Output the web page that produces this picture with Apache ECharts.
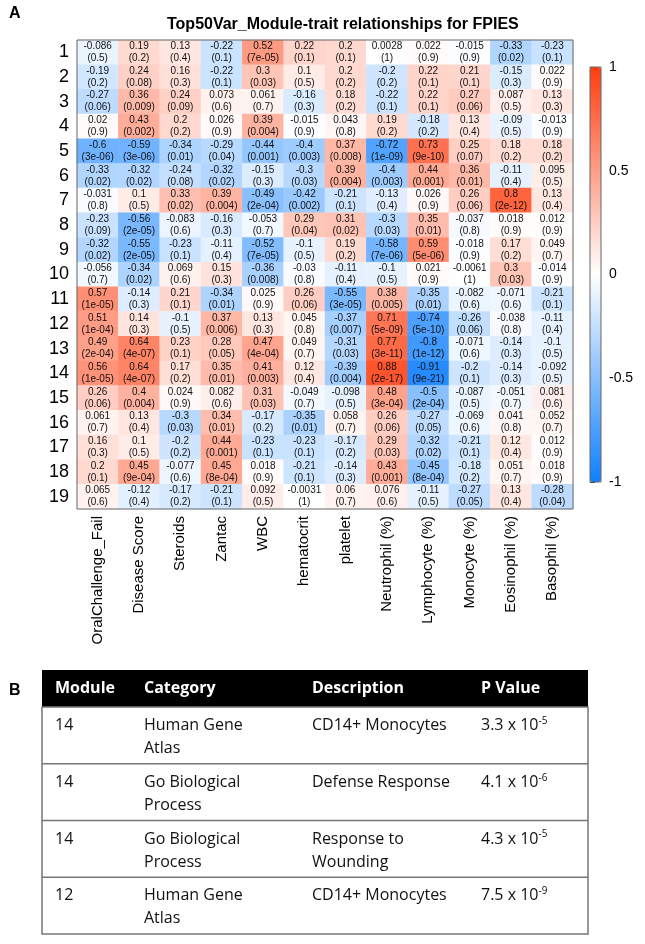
<!DOCTYPE html>
<html>
<head>
<meta charset="utf-8">
<script src="https://cdn.jsdelivr.net/npm/echarts@6/dist/echarts.min.js"></script>
<style>
  html, body { margin: 0; padding: 0; background: #fff; }
  #chart { width: 645px; height: 944px; }
</style>
</head>
<body>
<div id="chart"></div>
<script>
const traits = ['OralChallenge_Fail', 'Disease Score', 'Steroids', 'Zantac', 'WBC', 'hematocrit',
  'platelet', 'Neutrophil (%)', 'Lymphocyte (%)', 'Monocyte (%)', 'Eosinophil (%)', 'Basophil (%)'];
const modules = ['1', '2', '3', '4', '5', '6', '7', '8', '9', '10', '11', '12', '13', '14', '15', '16', '17', '18', '19'];

// module-trait correlations, one row per module
const corr = [
  [-0.086, 0.19, 0.13, -0.22, 0.52, 0.22, 0.2, 0.0028, 0.022, -0.015, -0.33, -0.23],
  [-0.19, 0.24, 0.16, -0.22, 0.3, 0.1, 0.2, -0.2, 0.22, 0.21, -0.15, 0.022],
  [-0.27, 0.36, 0.24, 0.073, 0.061, -0.16, 0.18, -0.22, 0.22, 0.27, 0.087, 0.13],
  [0.02, 0.43, 0.2, 0.026, 0.39, -0.015, 0.043, 0.19, -0.18, 0.13, -0.09, -0.013],
  [-0.6, -0.59, -0.34, -0.29, -0.44, -0.4, 0.37, -0.72, 0.73, 0.25, 0.18, 0.18],
  [-0.33, -0.32, -0.24, -0.32, -0.15, -0.3, 0.39, -0.4, 0.44, 0.36, -0.11, 0.095],
  [-0.031, 0.1, 0.33, 0.39, -0.49, -0.42, -0.21, -0.13, 0.026, 0.26, 0.8, 0.13],
  [-0.23, -0.56, -0.083, -0.16, -0.053, 0.29, 0.31, -0.3, 0.35, -0.037, 0.018, 0.012],
  [-0.32, -0.55, -0.23, -0.11, -0.52, -0.1, 0.19, -0.58, 0.59, -0.018, 0.17, 0.049],
  [-0.056, -0.34, 0.069, 0.15, -0.36, -0.03, -0.11, -0.1, 0.021, -0.0061, 0.3, -0.014],
  [0.57, -0.14, 0.21, -0.34, 0.025, 0.26, -0.55, 0.38, -0.35, -0.082, -0.071, -0.21],
  [0.51, 0.14, -0.1, 0.37, 0.13, 0.045, -0.37, 0.71, -0.74, -0.26, -0.038, -0.11],
  [0.49, 0.64, 0.23, 0.28, 0.47, 0.049, -0.31, 0.77, -0.8, -0.071, -0.14, -0.1],
  [0.56, 0.64, 0.17, 0.35, 0.41, 0.12, -0.39, 0.88, -0.91, -0.2, -0.14, -0.092],
  [0.26, 0.4, 0.024, 0.082, 0.31, -0.049, -0.098, 0.48, -0.5, -0.087, -0.051, 0.081],
  [0.061, 0.13, -0.3, 0.34, -0.17, -0.35, 0.058, 0.26, -0.27, -0.069, 0.041, 0.052],
  [0.16, 0.1, -0.2, 0.44, -0.23, -0.23, -0.17, 0.29, -0.32, -0.21, 0.12, 0.012],
  [0.2, 0.45, -0.077, 0.45, 0.018, -0.21, -0.14, 0.43, -0.45, -0.18, 0.051, 0.018],
  [0.065, -0.12, -0.17, -0.21, 0.092, -0.0031, 0.06, 0.076, -0.11, -0.27, 0.13, -0.28]
];

// p-values as printed under each correlation
const pvals = [
  ['0.5', '0.2', '0.4', '0.1', '7e-05', '0.1', '0.1', '1', '0.9', '0.9', '0.02', '0.1'],
  ['0.2', '0.08', '0.3', '0.1', '0.03', '0.5', '0.2', '0.2', '0.1', '0.1', '0.3', '0.9'],
  ['0.06', '0.009', '0.09', '0.6', '0.7', '0.3', '0.2', '0.1', '0.1', '0.06', '0.5', '0.3'],
  ['0.9', '0.002', '0.2', '0.9', '0.004', '0.9', '0.8', '0.2', '0.2', '0.4', '0.5', '0.9'],
  ['3e-06', '3e-06', '0.01', '0.04', '0.001', '0.003', '0.008', '1e-09', '9e-10', '0.07', '0.2', '0.2'],
  ['0.02', '0.02', '0.08', '0.02', '0.3', '0.03', '0.004', '0.003', '0.001', '0.01', '0.4', '0.5'],
  ['0.8', '0.5', '0.02', '0.004', '2e-04', '0.002', '0.1', '0.4', '0.9', '0.06', '2e-12', '0.4'],
  ['0.09', '2e-05', '0.6', '0.3', '0.7', '0.04', '0.02', '0.03', '0.01', '0.8', '0.9', '0.9'],
  ['0.02', '2e-05', '0.1', '0.4', '7e-05', '0.5', '0.2', '7e-06', '5e-06', '0.9', '0.2', '0.7'],
  ['0.7', '0.02', '0.6', '0.3', '0.008', '0.8', '0.4', '0.5', '0.9', '1', '0.03', '0.9'],
  ['1e-05', '0.3', '0.1', '0.01', '0.9', '0.06', '3e-05', '0.005', '0.01', '0.6', '0.6', '0.1'],
  ['1e-04', '0.3', '0.5', '0.006', '0.3', '0.8', '0.007', '5e-09', '5e-10', '0.06', '0.8', '0.4'],
  ['2e-04', '4e-07', '0.1', '0.05', '4e-04', '0.7', '0.03', '3e-11', '1e-12', '0.6', '0.3', '0.5'],
  ['1e-05', '4e-07', '0.2', '0.01', '0.003', '0.4', '0.004', '2e-17', '9e-21', '0.1', '0.3', '0.5'],
  ['0.06', '0.004', '0.9', '0.6', '0.03', '0.7', '0.5', '3e-04', '2e-04', '0.5', '0.7', '0.6'],
  ['0.7', '0.4', '0.03', '0.01', '0.2', '0.01', '0.7', '0.06', '0.05', '0.6', '0.8', '0.7'],
  ['0.3', '0.5', '0.2', '0.001', '0.1', '0.1', '0.2', '0.03', '0.02', '0.1', '0.4', '0.9'],
  ['0.1', '9e-04', '0.6', '8e-04', '0.9', '0.1', '0.3', '0.001', '8e-04', '0.2', '0.7', '0.9'],
  ['0.6', '0.4', '0.2', '0.1', '0.5', '1', '0.7', '0.6', '0.5', '0.05', '0.4', '0.04']
];

// enrichment table (panel B)
const tableHeader = ['Module', 'Category', 'Description', 'P Value'];
const tableModules = ['14', '14', '14', '12'];
const tableCategories = ['Human Gene\nAtlas', 'Go Biological\nProcess', 'Go Biological\nProcess', 'Human Gene\nAtlas'];
const tableDescriptions = ['CD14+ Monocytes', 'Defense Response', 'Response to\nWounding', 'CD14+ Monocytes'];
const tablePBase = ['3.3', '4.1', '4.3', '7.5'];
const tablePExp = ['-5', '-6', '-5', '-9'];

const heatData = [];
corr.forEach((row, y) => row.forEach((v, x) => heatData.push([x, y, v])));

// table layout
const tblLeft = 42, tblWidth = 546, headTop = 670, headH = 37, rowH = 56.75;
const colX = [13, 102, 270, 439];
const tblFont = '"Open Sans", sans-serif';

function buildTable() {
  const els = [];
  els.push({ type: 'rect', shape: { x: tblLeft, y: headTop, width: tblWidth, height: headH }, style: { fill: '#000' } });
  tableHeader.forEach((h, i) => {
    els.push({ type: 'text', x: tblLeft + colX[i], y: headTop + headH / 2,
      style: { text: h, fill: '#fff', font: 'bold 16px ' + tblFont, verticalAlign: 'middle' } });
  });
  const bodyTop = headTop + headH;
  els.push({ type: 'rect', shape: { x: tblLeft, y: bodyTop, width: tblWidth, height: rowH * tableModules.length },
    style: { fill: 'none', stroke: '#777', lineWidth: 1.5 } });
  tableModules.forEach((m, r) => {
    const top = bodyTop + r * rowH;
    if (r > 0) {
      els.push({ type: 'line', shape: { x1: tblLeft, y1: top, x2: tblLeft + tblWidth, y2: top },
        style: { stroke: '#777', lineWidth: 1.5 } });
    }
    const cells = [m, tableCategories[r], tableDescriptions[r]];
    cells.forEach((t, i) => {
      els.push({ type: 'text', x: tblLeft + colX[i], y: top + 7,
        style: { text: t, fill: '#111', font: '16px ' + tblFont, lineHeight: 23 } });
    });
    els.push({ type: 'text', x: tblLeft + colX[3], y: top + 7,
      style: { text: tablePBase[r] + ' x 10{sup|' + tablePExp[r] + '}', fill: '#111', font: '16px ' + tblFont, lineHeight: 23,
        rich: { sup: { fontSize: 10, fontFamily: 'Open Sans', fill: '#111', padding: [0, 0, 9, 0] } } } });
  });
  return els;
}

const chart = echarts.init(document.getElementById('chart'), null, { renderer: 'canvas' });
chart.setOption({
  animation: false,
  backgroundColor: '#fff',
  title: {
    text: 'Top50Var_Module-trait relationships for FPIES',
    left: 162, top: 12,
    textStyle: { fontFamily: 'Liberation Sans', fontSize: 16, fontWeight: 'bold', color: '#000' }
  },
  grid: [
    { left: 77, right: 72, top: 40, bottom: 435, show: true, z: 5, backgroundColor: 'transparent', borderColor: '#666', borderWidth: 1 },
    { left: 590, width: 11, top: 67, height: 415, show: true, z: 5, backgroundColor: 'transparent', borderColor: '#666', borderWidth: 1 }
  ],
  xAxis: [
    {
      type: 'category', data: traits, gridIndex: 0, position: 'bottom',
      axisLine: { show: false }, axisTick: { show: false }, splitLine: { show: false },
      axisLabel: { rotate: 90, interval: 0, margin: 7, fontSize: 15, color: '#000', fontFamily: 'Liberation Sans' }
    },
    { type: 'value', gridIndex: 1, show: false }
  ],
  yAxis: [
    {
      type: 'category', data: modules, gridIndex: 0, inverse: true,
      axisLine: { show: false }, axisTick: { show: false }, splitLine: { show: false },
      axisLabel: { fontSize: 18, color: '#000', margin: 8, fontFamily: 'Liberation Sans' }
    },
    {
      type: 'value', gridIndex: 1, min: -1, max: 1, interval: 0.5, position: 'right',
      axisLine: { show: false }, splitLine: { show: false },
      axisTick: { show: true, length: 5, lineStyle: { color: '#333' } },
      axisLabel: { fontSize: 14, color: '#000', margin: 8, fontFamily: 'Liberation Sans' }
    }
  ],
  visualMap: {
    type: 'continuous', min: -1, max: 1, seriesIndex: 0,
    left: 590, top: 67, itemWidth: 11, itemHeight: 415, padding: 0,
    calculable: false, hoverLink: false, showLabel: false, text: null,
    inRange: { color: ['#0F7FFF', '#FFFFFF', '#FF3D0F'] }
  },
  graphic: [
    { type: 'text', left: 9, top: 6, style: { text: 'A', font: 'bold 16px "Liberation Sans"', fill: '#000' } },
    { type: 'text', left: 9, top: 683, style: { text: 'B', font: 'bold 16px "Liberation Sans"', fill: '#000' } },
    ...buildTable()
  ],
  series: [{
    type: 'heatmap',
    xAxisIndex: 0, yAxisIndex: 0,
    data: heatData,
    label: {
      show: true,
      fontSize: 10, lineHeight: 12, color: '#111', fontFamily: 'Liberation Sans',
      formatter: p => p.value[2] + '\n(' + pvals[p.value[1]][p.value[0]] + ')'
    },
    emphasis: { disabled: true }
  }]
});
</script>
</body>
</html>
